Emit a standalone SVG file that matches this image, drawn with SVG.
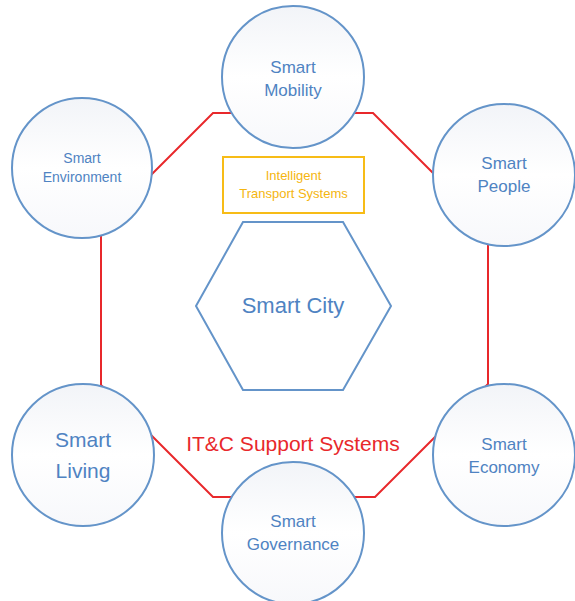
<svg xmlns="http://www.w3.org/2000/svg" width="575" height="601" viewBox="0 0 575 601">
<defs>
<radialGradient id="octFill" cx="50%" cy="50%" r="60%">
<stop offset="0" stop-color="#ffffff"/>
<stop offset="1" stop-color="#eceef4"/>
</radialGradient>
<linearGradient id="circFill" x1="0" y1="0" x2="0" y2="1">
<stop offset="0" stop-color="#f2f4f8"/>
<stop offset="0.5" stop-color="#ffffff"/>
<stop offset="1" stop-color="#f7f8fb"/>
</linearGradient>
<style>
.node{fill:url(#circFill);stroke:#6494c9;stroke-width:2}
.lbl{font-family:"Liberation Sans",Arial,sans-serif;fill:#4f83c2;text-anchor:middle}
.red{fill:none;stroke:#e8282b;stroke-width:2}
</style>
</defs>
<rect width="575" height="601" fill="#ffffff"/>
<g id="connectors">
<polygon points="101,225 213,113 373,113 488,228 488,384 375,497 213,497 101,385" fill="url(#octFill)" class="red"/>
</g>
<g id="its">
<rect x="223" y="157" width="141" height="56" fill="#ffffff" stroke="#f7bc16" stroke-width="2"/>
<text x="293.5" y="180" font-family="Liberation Sans,Arial,sans-serif" font-size="13" fill="#f5b50f" text-anchor="middle">Intelligent</text>
<text x="293.5" y="198" font-family="Liberation Sans,Arial,sans-serif" font-size="13" fill="#f5b50f" text-anchor="middle">Transport Systems</text>
</g>
<g id="smart-city">
<polygon points="243,222 343,222 391,306 343,390 243,390 196,306" fill="#ffffff" fill-opacity="0.6" stroke="#6494c9" stroke-width="2"/>
<text class="lbl" x="293" y="313" font-size="22">Smart City</text>
</g>
<g id="mobility">
<circle class="node" cx="293" cy="77" r="71"/>
<text class="lbl" x="293" y="73" font-size="17">Smart</text>
<text class="lbl" x="293" y="96" font-size="17">Mobility</text>
</g>
<g id="environment">
<circle class="node" cx="82" cy="168" r="70"/>
<text class="lbl" x="82" y="163" font-size="14">Smart</text>
<text class="lbl" x="82" y="182" font-size="14">Environment</text>
</g>
<g id="people">
<circle class="node" cx="504" cy="175" r="71"/>
<text class="lbl" x="504" y="169" font-size="17">Smart</text>
<text class="lbl" x="504" y="192" font-size="17">People</text>
</g>
<g id="living">
<circle class="node" cx="83" cy="455" r="71"/>
<text class="lbl" x="83" y="447" font-size="21">Smart</text>
<text class="lbl" x="83" y="478" font-size="21">Living</text>
</g>
<g id="economy">
<circle class="node" cx="504" cy="455" r="71"/>
<text class="lbl" x="504" y="450" font-size="17">Smart</text>
<text class="lbl" x="504" y="473" font-size="17">Economy</text>
</g>
<g id="governance">
<circle class="node" cx="293" cy="533" r="71"/>
<text class="lbl" x="293" y="527" font-size="17">Smart</text>
<text class="lbl" x="293" y="550" font-size="17">Governance</text>
</g>
<g id="itc">
<text x="293" y="451" font-family="Liberation Sans,Arial,sans-serif" font-size="21" fill="#e8282b" text-anchor="middle">IT&amp;C Support Systems</text>
</g>
</svg>
